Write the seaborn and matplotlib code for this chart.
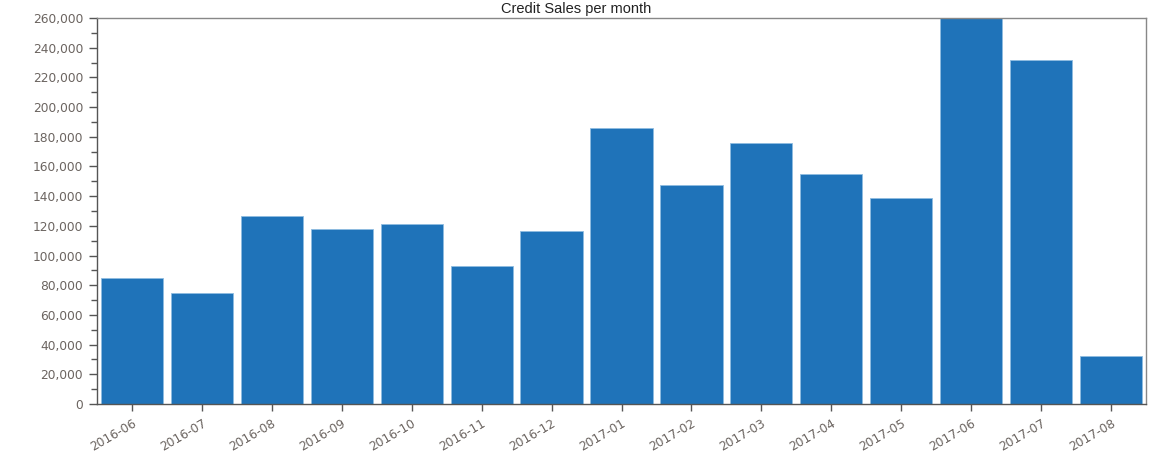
import numpy as np
import pandas as pd
import matplotlib
matplotlib.use("Agg")
import matplotlib.pyplot as plt
import seaborn as sns
from matplotlib.ticker import FuncFormatter, MultipleLocator

# --- data ---
months = ["2016-06", "2016-07", "2016-08", "2016-09", "2016-10", "2016-11",
          "2016-12", "2017-01", "2017-02", "2017-03", "2017-04", "2017-05",
          "2017-06", "2017-07", "2017-08"]
sales = [84600, 74600, 126600, 117900, 121200, 93000,
         116500, 185900, 147500, 175800, 155000, 139000,
         265000, 231700, 32500]

df = pd.DataFrame({"month": months, "sales": sales})

sns.set_style("white")
plt.rcParams["font.family"] = ["DejaVu Sans"]

fig = plt.figure(figsize=(11.53, 4.65), dpi=100)
ax = fig.add_axes([97 / 1153, 1 - 404 / 465, (1146 - 97) / 1153, (404 - 18) / 465])

sns.barplot(data=df, x="month", y="sales", color="#1f73b9", saturation=1,
            width=0.89, edgecolor="#8fbce0", linewidth=0.6, ax=ax)

ax.set_xlim(-0.5, len(months) - 0.5)
ax.set_ylim(0, 260000)
ax.yaxis.set_major_locator(MultipleLocator(20000))
ax.yaxis.set_minor_locator(MultipleLocator(10000))
ax.yaxis.set_major_formatter(FuncFormatter(lambda v, p: f"{int(v):,}"))

ax.set_xlabel("")
ax.set_ylabel("")

for side in ["left", "bottom", "top", "right"]:
    ax.spines[side].set_visible(True)
    ax.spines[side].set_color("#555555")
    ax.spines[side].set_linewidth(1.0)
ax.spines["top"].set_color("#888888")
ax.spines["right"].set_color("#888888")

ax.tick_params(axis="y", which="major", length=6, width=1, color="#555555",
               labelsize=8.8, labelcolor="#6b6460", left=True, pad=4)
ax.tick_params(axis="y", which="minor", length=4, width=1, color="#555555", left=True)
ax.tick_params(axis="x", which="major", length=5, width=1, color="#555555",
               labelsize=8.8, labelcolor="#6b6460", bottom=True, pad=4)
for lbl in ax.get_xticklabels():
    lbl.set_rotation(30)
    lbl.set_ha("right")
    lbl.set_rotation_mode("anchor")

fig.text(0.5, 1 - 13 / 465, "Credit Sales per month", ha="center", va="baseline",
         fontsize=10.5, color="#222222", family=["Liberation Sans", "DejaVu Sans"])

fig.savefig("out.png", dpi=100)
